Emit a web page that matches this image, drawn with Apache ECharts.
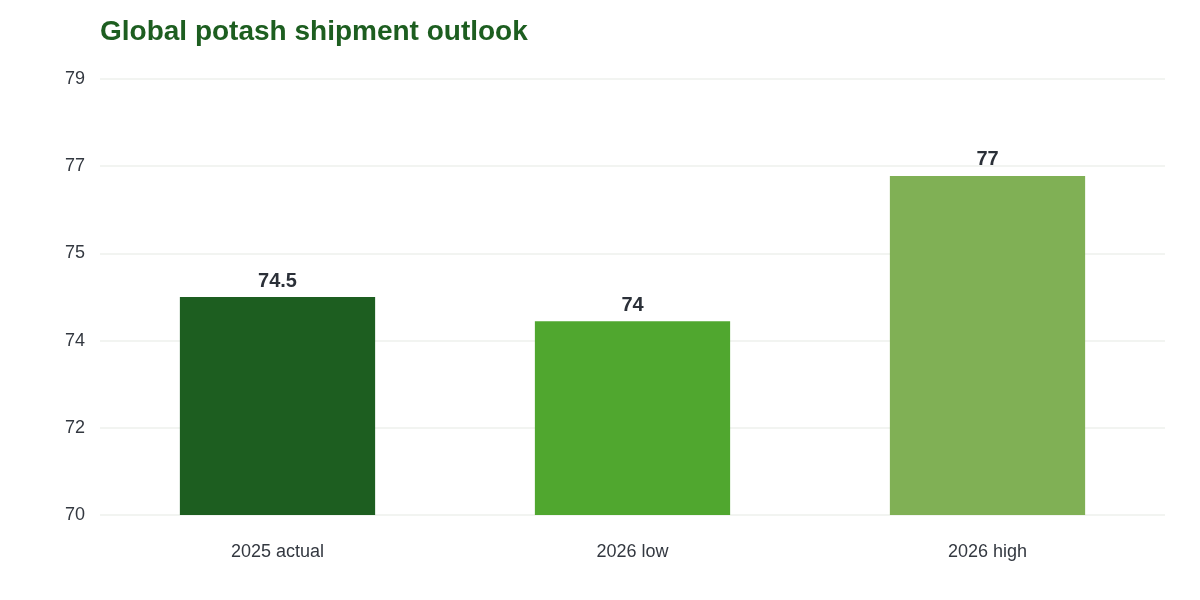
<!DOCTYPE html>
<html>
<head>
<meta charset="utf-8">
<script src="https://cdn.jsdelivr.net/npm/echarts@6/dist/echarts.min.js"></script>
<style>
    html, body { margin: 0; padding: 0; background: #fff; }
    #main { width: 1200px; height: 600px; }
</style>
</head>
<body>
<div id="main"></div>
<script>
    // 数据
    var categories = ['2025 actual', '2026 low', '2026 high'];
    var shipments = [74.5, 74, 77];
    var barLabels = ['74.5', '74', '77'];
    var barColors = ['#1d5e20', '#50a72f', '#80b055'];

    var fontName = '"Liberation Sans", Arial, sans-serif';
    var myChart = echarts.init(document.getElementById('main'));

    myChart.setOption({
        animation: false,
        textStyle: {fontFamily: fontName},
        title: {
            text: 'Global potash shipment outlook',
            left: 95,
            top: 13,
            textStyle: {
                color: '#1d5e20',
                fontSize: 28,
                fontWeight: 'bold',
                fontFamily: fontName
            }
        },
        grid: {
            left: 100,
            right: 35,
            top: 79,
            bottom: 85,
            containLabel: false
        },
        xAxis: {
            type: 'category',
            data: categories,
            axisLine: {show: false},
            axisTick: {show: false},
            axisLabel: {
                color: '#333840',
                fontSize: 18,
                fontFamily: fontName,
                margin: 28
            }
        },
        yAxis: {
            type: 'value',
            min: 70,
            max: 79,
            interval: 1.8,
            axisLine: {show: false},
            axisTick: {show: false},
            splitLine: {lineStyle: {color: '#eef0ec', width: 1.5}},
            axisLabel: {
                color: '#333840',
                fontSize: 18,
                fontFamily: fontName,
                margin: 15,
                padding: [3, 0, 0, 0],
                formatter: function (v) {
                    return Math.round(v);
                }
            }
        },
        series: [
            {
                type: 'bar',
                barWidth: '55%',
                data: shipments.map(function (v, i) {
                    return {value: v, itemStyle: {color: barColors[i]}};
                }),
                label: {
                    show: true,
                    position: 'top',
                    distance: 6,
                    color: '#2b3038',
                    fontSize: 20,
                    fontWeight: 'bold',
                    fontFamily: fontName,
                    formatter: function (p) {
                        return barLabels[p.dataIndex];
                    }
                }
            }
        ]
    });
</script>
</body>
</html>
